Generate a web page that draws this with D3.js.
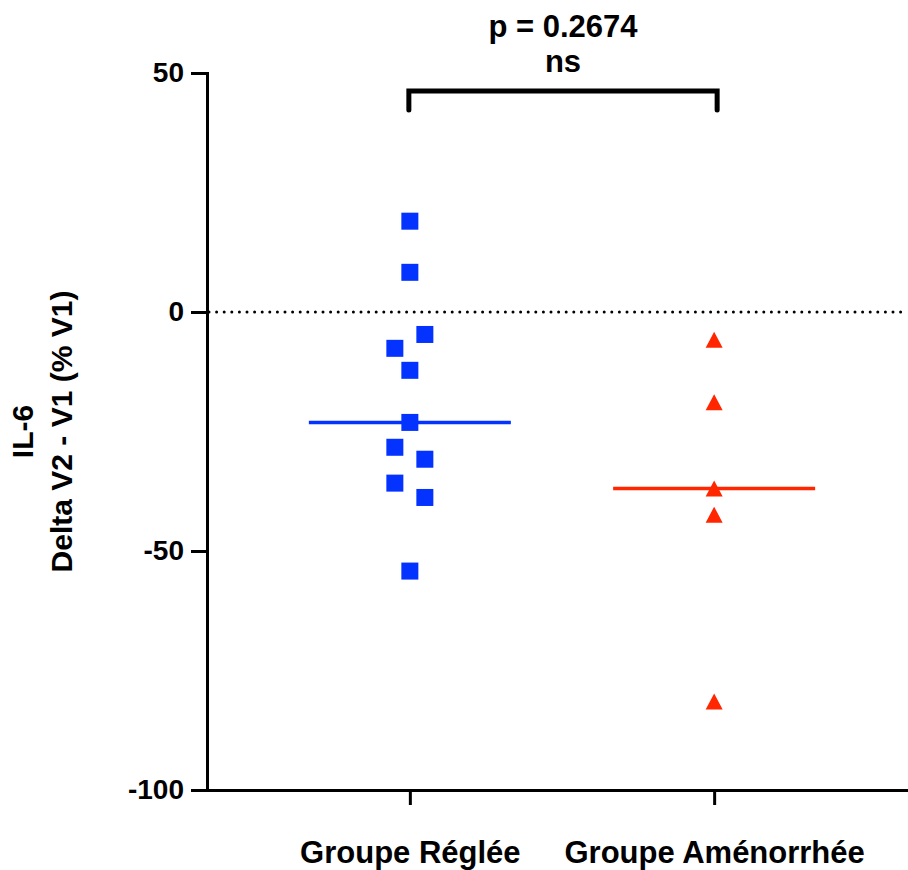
<!DOCTYPE html>
<html>
<head>
<meta charset="utf-8">
<script src="https://cdn.jsdelivr.net/npm/d3@7"></script>
<style>
  body { margin: 0; background: #fff; }
  svg text { font-family: "Liberation Sans", Arial, Helvetica, sans-serif; font-weight: bold; fill: #000; }
</style>
</head>
<body>
<script>
// data
var groups = ["Groupe Réglée", "Groupe Aménorrhée"];
var regleeValues = [19.0, 8.3, -7.6, -4.7, -12.2, -23.1, -28.3, -30.8, -35.8, -38.8, -54.2];
var amenoValues = [-5.8, -18.9, -36.9, -42.4, -81.5];
var yTicks = [50, 0, -50, -100];
var yTitle = ["IL-6", "Delta V2 - V1 (% V1)"];
var pLabel = "p = 0.2674";
var sigLabel = "ns";

var colors = ["#0433ff", "#ff2600"];
var markerSize = 17;

var width = 908, height = 870;

var svg = d3.select("body").append("svg")
    .attr("width", width)
    .attr("height", height);

var y = d3.scaleLinear().domain([-100, 50]).range([790, 73]);
var x = d3.scalePoint().domain(groups).range([207, 917]).padding(2 / 3);

// dotted zero line
svg.append("line")
    .attr("x1", 209).attr("x2", width)
    .attr("y1", y(0)).attr("y2", y(0))
    .attr("stroke", "#000")
    .attr("stroke-width", 3)
    .attr("stroke-dasharray", "0 7.6")
    .attr("stroke-linecap", "round");

// axes
var yAxis = svg.append("g")
    .attr("transform", "translate(207,0)")
    .call(d3.axisLeft(y).tickValues(yTicks).tickSize(16).tickSizeOuter(0).tickPadding(7)
        .tickFormat(function(d) { return String(d); }));

var xAxis = svg.append("g")
    .attr("transform", "translate(0,790)")
    .call(d3.axisBottom(x).tickSize(15).tickSizeOuter(0).tickPadding(36));

[yAxis, xAxis].forEach(function(g) {
    g.select(".domain").attr("stroke-width", 3).attr("stroke-linecap", "square");
    g.selectAll(".tick line").attr("stroke-width", 3);
});
yAxis.selectAll("text").style("font-size", "28px");
xAxis.selectAll("text").style("font-size", "31px");

// y title
var title = svg.append("text")
    .attr("transform", "rotate(-90)")
    .attr("text-anchor", "middle")
    .style("font-size", "30px");
title.selectAll("tspan").data(yTitle).enter().append("tspan")
    .attr("x", -(y(50) + y(-100)) / 2)
    .attr("y", function(d, i) { return 33 + i * 39; })
    .text(function(d) { return d; });

// spread points that overlap vertically (like the scatter dodge)
function dodge(values) {
    var order = d3.range(values.length).sort(function(a, b) { return values[b] - values[a]; });
    var offsets = new Array(values.length).fill(0);
    var clusters = [];
    var cur = [order[0]];
    for (var i = 1; i < order.length; i++) {
        if (y(values[order[i]]) - y(values[order[i - 1]]) < markerSize + 1) {
            cur.push(order[i]);
        } else {
            clusters.push(cur);
            cur = [order[i]];
        }
    }
    clusters.push(cur);
    clusters.forEach(function(c) {
        c.sort(function(a, b) { return a - b; });
        c.forEach(function(idx, j) { offsets[idx] = (j - (c.length - 1) / 2) * 30; });
    });
    return offsets;
}

var series = [regleeValues, amenoValues];

// median lines
series.forEach(function(vals, gi) {
    var cx = x(groups[gi]);
    var m = d3.median(vals);
    svg.append("line")
        .attr("x1", cx - 101).attr("x2", cx + 101)
        .attr("y1", y(m)).attr("y2", y(m))
        .attr("stroke", colors[gi])
        .attr("stroke-width", 3.5);
});

// points
var sqOff = dodge(regleeValues);
svg.selectAll(".sq").data(regleeValues).enter().append("rect")
    .attr("class", "sq")
    .attr("x", function(d, i) { return x(groups[0]) + sqOff[i] - markerSize / 2; })
    .attr("y", function(d) { return y(d) - markerSize / 2; })
    .attr("width", markerSize)
    .attr("height", markerSize)
    .attr("fill", colors[0]);

var triOff = dodge(amenoValues);
svg.selectAll(".tri").data(amenoValues).enter().append("path")
    .attr("class", "tri")
    .attr("d", "M0,-8L8.5,8L-8.5,8Z")
    .attr("transform", function(d, i) { return "translate(" + (x(groups[1]) + triOff[i]) + "," + y(d) + ")"; })
    .attr("fill", colors[1]);

// significance bracket
var bx1 = x(groups[0]) - 1, bx2 = x(groups[1]) + 3;
svg.append("path")
    .attr("d", d3.line()([[bx1, 110], [bx1, 91], [bx2, 91], [bx2, 110]]))
    .attr("fill", "none")
    .attr("stroke", "#000")
    .attr("stroke-width", 5)
    .attr("stroke-linecap", "round");

svg.append("text")
    .attr("x", (bx1 + bx2) / 2).attr("y", 37)
    .attr("text-anchor", "middle")
    .style("font-size", "31px")
    .text(pLabel);
svg.append("text")
    .attr("x", (bx1 + bx2) / 2).attr("y", 72)
    .attr("text-anchor", "middle")
    .style("font-size", "31px")
    .text(sigLabel);
</script>
</body>
</html>
